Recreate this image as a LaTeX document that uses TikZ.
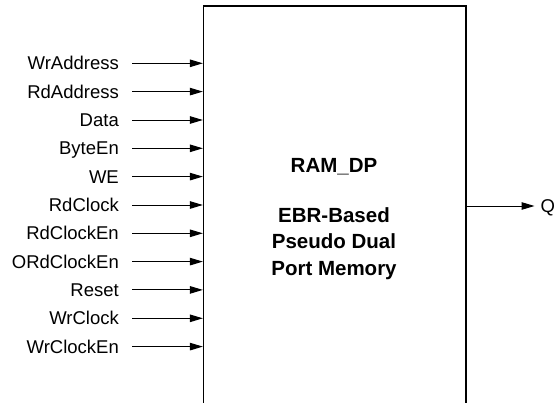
\documentclass[tikz,border=0pt]{standalone}
\usepackage{fontspec}
\setmainfont{Liberation Sans}
\usepackage{tikz}
\usetikzlibrary{arrows.meta,positioning,calc}

\begin{document}
\begin{tikzpicture}[x=1pt, y=-1pt, >={Triangle[length=13pt,width=7.5pt]},
  every node/.style={font=\fontsize{18.5}{26.5}\selectfont},
  pin/.style={anchor=east, inner sep=0pt, text height=13.2pt, text depth=0pt},
  wire/.style={->, line width=1pt}]
  \useasboundingbox (0,0) rectangle (556,402);
  \clip (0,0) rectangle (556,402);
  \node (ram) [draw, line width=1.3pt, minimum width=262.5pt, minimum height=440pt] at (334.75,226) {};
  \node (title) [align=center, font=\fontsize{20.5}{26.5}\selectfont\bfseries] at (334,219)
    {RAM\_DP\\[23.5pt]EBR-Based\\Pseudo Dual\\Port Memory};
  \node (wraddr) [pin] at (119,63.3) {WrAddress};
  \node (rdaddr) [pin] at (119,91.6) {RdAddress};
  \node (data) [pin] at (119,120) {Data};
  \node (byteen) [pin] at (119,148.3) {ByteEn};
  \node (we) [pin] at (119,176.6) {WE};
  \node (rdclk) [pin] at (119,205) {RdClock};
  \node (rdclken) [pin] at (119,233.3) {RdClockEn};
  \node (ordclken) [pin] at (119,261.6) {ORdClockEn};
  \node (reset) [pin] at (119,289.9) {Reset};
  \node (wrclk) [pin] at (119,318.3) {WrClock};
  \node (wrclken) [pin] at (119,346.6) {WrClockEn};
  \node (q) [pin, anchor=west] at (540.5,206) {Q};
  \draw[wire] ([xshift=13pt]wraddr.east) -- (wraddr -| ram.west);
  \draw[wire] ([xshift=13pt]rdaddr.east) -- (rdaddr -| ram.west);
  \draw[wire] ([xshift=13pt]data.east) -- (data -| ram.west);
  \draw[wire] ([xshift=13pt]byteen.east) -- (byteen -| ram.west);
  \draw[wire] ([xshift=13pt]we.east) -- (we -| ram.west);
  \draw[wire] ([xshift=13pt]rdclk.east) -- (rdclk -| ram.west);
  \draw[wire] ([xshift=13pt]rdclken.east) -- (rdclken -| ram.west);
  \draw[wire] ([xshift=13pt]ordclken.east) -- (ordclken -| ram.west);
  \draw[wire] ([xshift=13pt]reset.east) -- (reset -| ram.west);
  \draw[wire] ([xshift=13pt]wrclk.east) -- (wrclk -| ram.west);
  \draw[wire] ([xshift=13pt]wrclken.east) -- (wrclken -| ram.west);
  \draw[wire] (q -| ram.east) -- ([xshift=-6pt]q.west);
\end{tikzpicture}
\end{document}
